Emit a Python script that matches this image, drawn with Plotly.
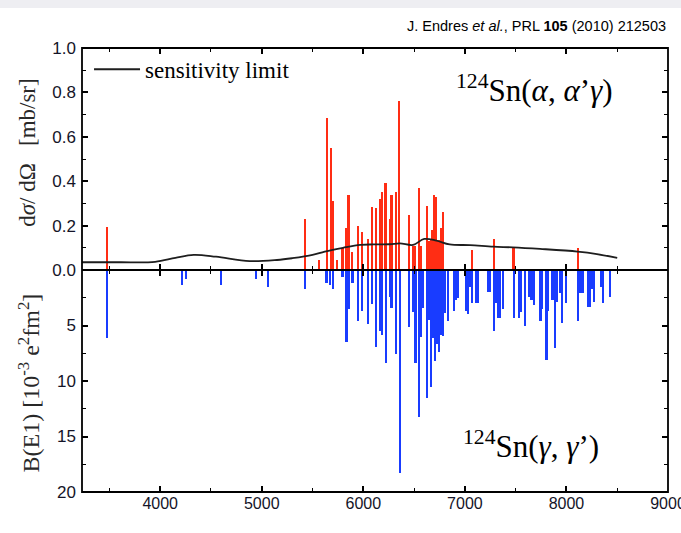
import plotly.graph_objects as go

# ---- data ----
# (alpha, alpha' gamma) cross sections: energies [keV] and d sigma/d Omega [mb/sr]
E_alpha = [3480, 5427, 5565, 5644, 5680, 5700, 5742, 5798, 5831, 5857, 5893, 5952, 5991,
           6050, 6087, 6126, 6165, 6185, 6221, 6264, 6280, 6320, 6355, 6450, 6493, 6510,
           6552, 6569, 6628, 6648, 6668, 6680, 6700, 6720, 6743, 6763, 6788, 7075, 7287,
           7481, 8117]
xs_alpha = [0.195, 0.23, 0.045, 0.685, 0.55, 0.31, 0.045, 0.10, 0.19, 0.34, 0.08, 0.20, 0.17,
            0.14, 0.285, 0.28, 0.32, 0.35, 0.39, 0.23, 0.34, 0.35, 0.76, 0.25, 0.11, 0.11,
            0.37, 0.11, 0.29, 0.13, 0.14, 0.18, 0.34, 0.33, 0.135, 0.19, 0.26, 0.09, 0.14,
            0.10, 0.10]

# sensitivity limit
E_sens = [3230, 3600, 3950, 4150, 4330, 4550, 4880, 5150, 5300, 5500, 5620, 5800, 5970,
          6100, 6260, 6360, 6490, 6600, 6720, 6850, 7050, 7280, 7470, 7740, 8110, 8300, 8500]
sens = [0.035, 0.035, 0.037, 0.055, 0.068, 0.060, 0.040, 0.045, 0.053, 0.068, 0.083, 0.100,
        0.113, 0.115, 0.116, 0.120, 0.113, 0.140, 0.132, 0.115, 0.112, 0.105, 0.102, 0.095,
        0.083, 0.072, 0.055]

# (gamma, gamma') B(E1) strengths [10^-3 e^2 fm^2]
E_gamma = [3482, 4213, 4256, 4600, 4948, 5066, 5430, 5640, 5673, 5700, 5798, 5837, 5860,
           5896, 5952, 5991, 6050, 6090, 6126, 6165, 6185, 6224, 6264, 6280, 6322, 6362,
           6454, 6493, 6516, 6552, 6569, 6592, 6631, 6651, 6668, 6684, 6707, 6727, 6746,
           6772, 6790, 6805, 6837, 6896, 6916, 6935, 7018, 7034, 7057, 7073, 7116, 7132,
           7231, 7248, 7287, 7307, 7330, 7346, 7379, 7484, 7536, 7556, 7596, 7635, 7658,
           7681, 7747, 7766, 7806, 7825, 7865, 7888, 7904, 7943, 7963, 8002, 8117, 8140,
           8160, 8215, 8232, 8258, 8272, 8347, 8363, 8429]
BE1 = [6.1, 1.35, 0.85, 1.35, 0.85, 1.55, 1.75, 1.2, 1.35, 1.75, 0.65, 6.45, 3.55,
       1.2, 4.55, 3.65, 4.85, 3.05, 6.95, 5.45, 5.85, 8.4, 2.4, 3.45, 7.55, 18.3,
       5.1, 3.8, 8.4, 13.2, 6.0, 3.4, 11.55, 4.5, 10.5, 6.15, 8.2, 6.7, 7.35,
       5.9, 5.95, 3.9, 4.6, 3.65, 2.7, 2.55, 3.7, 4.0, 1.5, 3.0, 3.0, 3.0,
       1.95, 2.0, 5.45, 2.95, 4.35, 4.35, 3.55, 4.35, 4.35, 3.75, 5.05, 2.4, 2.7,
       3.15, 4.55, 3.55, 8.1, 3.65, 2.7, 7.05, 2.85, 2.1, 4.8, 2.95, 4.55, 2.05,
       2.1, 3.3, 3.3, 1.75, 2.85, 1.55, 3.0, 2.4]

top_ticks = [0.0, 0.2, 0.4, 0.6, 0.8, 1.0]
bottom_ticks = [5, 10, 15, 20]
x_ticks = [4000, 5000, 6000, 7000, 8000, 9000]

RED = "rgb(255,45,20)"
BLUE = "rgb(25,60,255)"
SERIF = "Liberation Serif"
SANS = "Liberation Sans"

fig = go.Figure()
fig.add_trace(go.Bar(x=E_alpha, y=xs_alpha, width=16, marker=dict(color=RED, line_width=0),
                     xaxis="x2", yaxis="y", showlegend=False))
fig.add_trace(go.Scatter(x=E_sens, y=sens, mode="lines",
                         line=dict(color="rgb(30,30,30)", width=1.8, shape="spline"),
                         name="sensitivity limit", xaxis="x2", yaxis="y", showlegend=True))
fig.add_trace(go.Bar(x=E_gamma, y=BE1, width=16, marker=dict(color=BLUE, line_width=0),
                     xaxis="x", yaxis="y2", showlegend=False))

common_x = dict(range=[3230, 9000], ticks="inside", ticklen=6, tickwidth=1.5, tickcolor="black",
                showline=False, mirror="allticks", automargin=False,
                tickvals=x_ticks, showgrid=False, zeroline=False,
                minor=dict(dtick=500, tick0=0, ticks="inside", ticklen=4, tickcolor="black", tickwidth=1.2))

ycommon = dict(ticks="inside", ticklen=6, tickwidth=1.5, tickcolor="black",
               showline=False, mirror="allticks", showgrid=False, zeroline=False,
               ticklabelstandoff=5, automargin=False,
               tickfont=dict(family=SANS, size=17, color="rgb(20,20,40)"))

fig.update_layout(
    width=681, height=533,
    margin=dict(l=82, r=13, t=48, b=41),
    paper_bgcolor="white", plot_bgcolor="white",
    barmode="overlay", bargap=0,
    xaxis=dict(**common_x, anchor="y2", domain=[0, 1], ticklabeloverflow="allow",
               tickfont=dict(family=SANS, size=16, color="rgb(20,20,40)")),
    xaxis2=dict(**common_x, anchor="y", matches="x", showticklabels=False),
    yaxis=dict(**ycommon, domain=[0.5, 1], range=[0, 1], tickvals=top_ticks, tickformat=".1f",
               minor=dict(dtick=0.1, ticks="inside", ticklen=4, tickcolor="black", tickwidth=1.2)),
    yaxis2=dict(**ycommon, domain=[0, 0.5], range=[20, 0], tickvals=bottom_ticks,
                minor=dict(dtick=2.5, ticks="inside", ticklen=4, tickcolor="black", tickwidth=1.2)),
    legend=dict(x=0.012, y=0.952, xanchor="left", yanchor="middle", bgcolor="rgba(0,0,0,0)",
                font=dict(family=SERIF, size=23, color="black"), itemwidth=46),
    showlegend=True,
)

# light grey band at the very top (screenshot background)
fig.add_shape(type="rect", xref="paper", yref="paper", x0=-0.2, x1=1.1, y0=1.09, y1=1.2,
              fillcolor="rgb(238,238,242)", line_width=0, layer="below")
# plot frame and the shared zero line
fig.add_shape(type="rect", xref="paper", yref="paper", x0=0, x1=1, y0=0, y1=1,
              line=dict(color="black", width=1.8), fillcolor="rgba(0,0,0,0)", layer="above")
fig.add_shape(type="line", xref="paper", yref="paper", x0=0, x1=1, y0=0.5, y1=0.5,
              line=dict(color="black", width=1.8), layer="above")

annotations = [
    dict(text="J. Endres <i>et al.</i>, PRL <b>105</b> (2010) 212503", x=1.0, y=1.05,
         xanchor="right", yanchor="middle", font=dict(family=SANS, size=14.5, color="black")),
    dict(text="<sup>124</sup>Sn(<i>α</i>, <i>α</i>’<i>γ</i>)", x=0.773, y=0.908,
         xanchor="center", yanchor="middle", font=dict(family=SERIF, size=31, color="black")),
    dict(text="<sup>124</sup>Sn(<i>γ</i>, <i>γ</i>’)", x=0.766, y=0.108,
         xanchor="center", yanchor="middle", font=dict(family=SERIF, size=31, color="black")),
    dict(text="d<i>σ</i>/ dΩ&nbsp;&nbsp;&nbsp;[mb/sr]", x=-0.093, y=0.765, textangle=-90,
         xanchor="center", yanchor="middle", font=dict(family=SERIF, size=23, color="rgb(40,40,40)")),
    dict(text="B(E1) [10<sup>-3</sup> e<sup>2</sup>fm<sup>2</sup>]", x=-0.09, y=0.245, textangle=-90,
         xanchor="center", yanchor="middle", font=dict(family=SERIF, size=24, color="rgb(40,40,40)")),
    dict(text="Energy [keV]", x=0.5, y=-0.075, xanchor="center", yanchor="top",
         font=dict(family=SERIF, size=22, color="black")),
]
for a in annotations:
    fig.add_annotation(xref="paper", yref="paper", showarrow=False, **a)

fig.write_html("out.html")
